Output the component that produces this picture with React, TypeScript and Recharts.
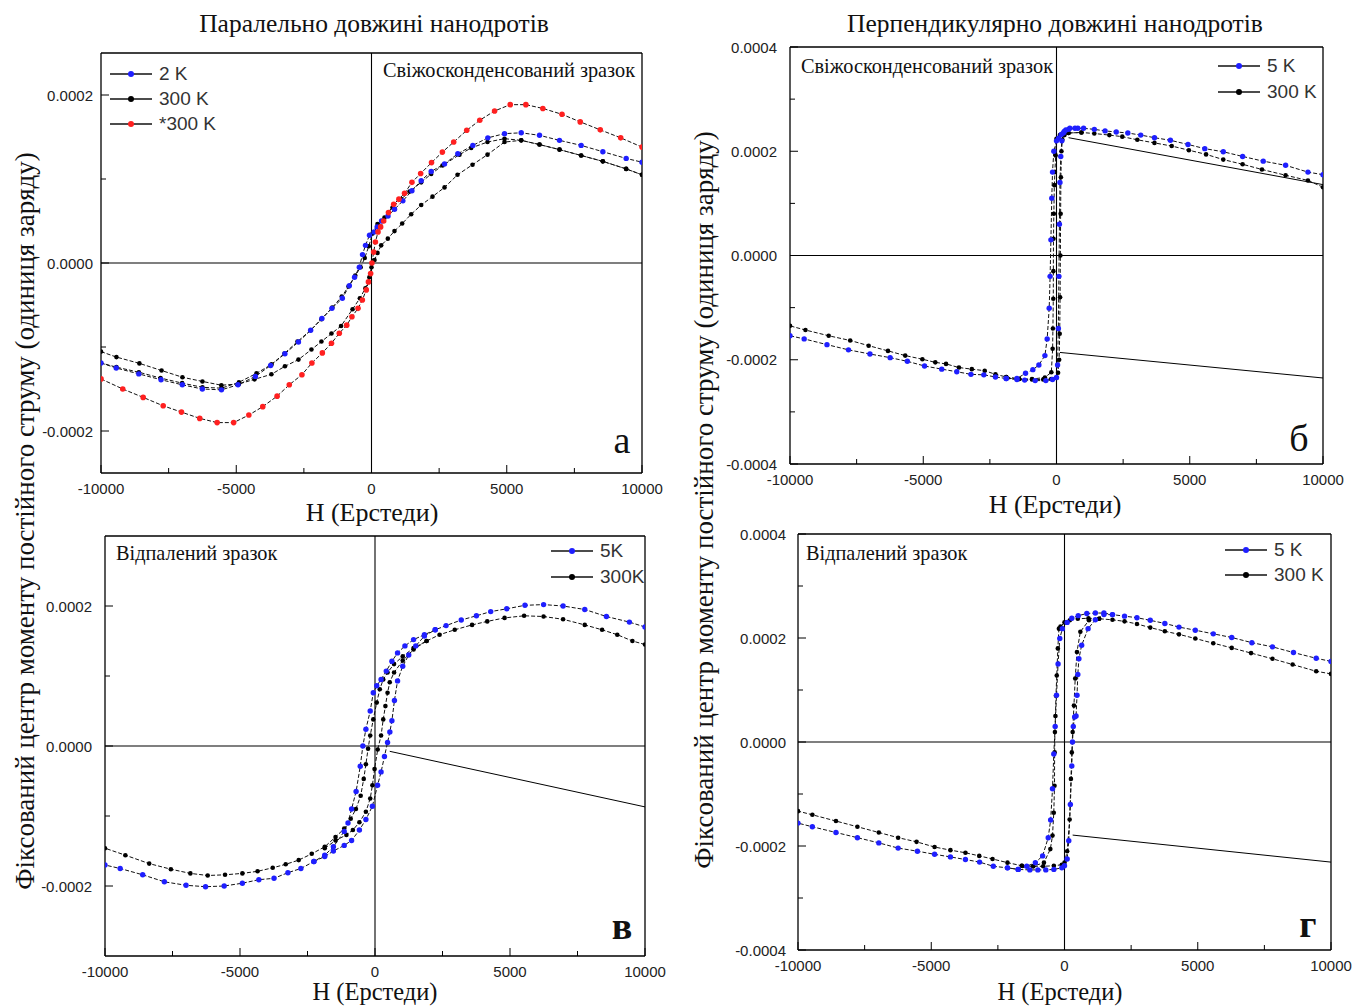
import React from "react";
import { LineChart, Line, XAxis, YAxis, ReferenceLine } from "recharts";

// ---------- data (H in Oe, M in units of 1e-4) ----------
const xTicks = [-10000, -7500, -5000, -2500, 0, 2500, 5000, 7500, 10000];
const yTicksA = [-2e-4, -1e-4, 0, 1e-4, 2e-4];
const yTicksB = [-4e-4, -3e-4, -2e-4, -1e-4, 0, 1e-4, 2e-4, 3e-4, 4e-4];
const yTicksC = [-2e-4, -1e-4, 0, 1e-4, 2e-4];

// Panel а (parallel, fresh)
const a2K = [[-10000,-1.19],[-9437,-1.25],[-8602,-1.32],[-7781,-1.39],[-6994,-1.45],[-6254,-1.5],[-5547,-1.51],[-4936,-1.45],[-4293,-1.35],[-3730,-1.22],[-3200,-1.08],[-2700,-0.94],[-2250,-0.8],[-1833,-0.66],[-1463,-0.54],[-1077,-0.42],[-820,-0.27],[-627,-0.17],[-450,-0.05],[-333,0.1],[-222,0.21],[-74,0.33],[96,0.37],[209,0.43],[370,0.5],[611,0.56],[852,0.64],[1160,0.74],[1495,0.86],[1837,0.98],[2206,1.09],[2699,1.18],[3191,1.3],[3746,1.4],[4300,1.49],[4917,1.54],[5535,1.55],[6211,1.52],[6950,1.46],[7751,1.4],[8552,1.325],[9415,1.245],[10000,1.2]];
const a300up = [[-10000,-1.055],[-9430,-1.12],[-8580,-1.195],[-7760,-1.28],[-6990,-1.36],[-6250,-1.41],[-5550,-1.455],[-4900,-1.44],[-4325,-1.385],[-3700,-1.325],[-3200,-1.23],[-2700,-1.15],[-2220,-1.03],[-1850,-0.935],[-1480,-0.84],[-1125,-0.75],[-700,-0.55],[-430,-0.42],[-225,-0.3],[-80,-0.17],[0,-0.05],[111,0.035],[222,0.12],[358,0.21],[603,0.29],[850,0.38],[1135,0.47],[1467,0.58],[1837,0.69],[2255,0.79],[2700,0.9],[3180,1.05],[3734,1.17],[4288,1.29],[4917,1.44],[5535,1.46],[6211,1.41],[6950,1.35],[7751,1.28],[8552,1.21],[9415,1.12],[10000,1.05]];
const a300down = [[10000,1.05],[9415,1.12],[8552,1.21],[7751,1.28],[6950,1.35],[6211,1.41],[5535,1.46],[4917,1.48],[4288,1.44],[3686,1.37],[3253,1.29],[2625,1.16],[2206,1.06],[1837,0.96],[1405,0.85],[1098,0.76],[776,0.66],[480,0.54],[222,0.465],[37,0.35],[-100,0.2],[-250,0.06],[-400,-0.05],[-600,-0.15],[-850,-0.28],[-1100,-0.4],[-1450,-0.53],[-1850,-0.67],[-2250,-0.8],[-2736,-0.935],[-3216,-1.077],[-3697,-1.207],[-4251,-1.314],[-4900,-1.42],[-5545,-1.49],[-6250,-1.48],[-7000,-1.43],[-7800,-1.37],[-8600,-1.3],[-9430,-1.24],[-10000,-1.19]];
const a300star = [[-10000,-1.38],[-9196,-1.5],[-8441,-1.6],[-7701,-1.7],[-7026,-1.775],[-6350,-1.85],[-5707,-1.9],[-5096,-1.9],[-4534,-1.81],[-4020,-1.71],[-3489,-1.585],[-3039,-1.45],[-2572,-1.33],[-2203,-1.19],[-1817,-1.07],[-1479,-0.955],[-1190,-0.836],[-916,-0.74],[-723,-0.64],[-498,-0.54],[-338,-0.44],[-193,-0.32],[-113,-0.225],[-32,-0.126],[16,0],[80,0.13],[145,0.25],[241,0.37],[338,0.43],[450,0.5],[627,0.6],[820,0.7],[1013,0.76],[1222,0.83],[1495,0.96],[1817,1.065],[2219,1.195],[2621,1.32],[3039,1.44],[3521,1.58],[4003,1.7],[4550,1.81],[5129,1.885],[5707,1.885],[6334,1.84],[7042,1.77],[7717,1.68],[8457,1.585],[9212,1.49],[10000,1.38]];

// Panel б (perpendicular, fresh)
const b5Kdown = [[10000,1.55],[9435,1.6],[8597,1.73],[7758,1.81],[6984,1.9],[6258,1.99],[5565,2.05],[4935,2.13],[4274,2.21],[3677,2.26],[3161,2.31],[2677,2.35],[2242,2.37],[1823,2.39],[1419,2.42],[1016,2.44],[694,2.44],[452,2.42],[290,2.38],[177,2.32],[81,2.25],[0,2.2],[-100,2.0],[-150,1.6],[-177,1.1],[-210,0.3],[-240,-0.4],[-274,-1.01],[-350,-1.6],[-435,-1.92],[-661,-2.1],[-887,-2.19],[-1161,-2.26],[-1484,-2.36],[-1887,-2.36],[-2290,-2.33],[-2726,-2.29],[-3210,-2.28],[-3742,-2.23],[-4306,-2.18],[-4952,-2.12],[-5597,-2.03],[-6242,-1.96],[-7000,-1.89],[-7806,-1.81],[-8613,-1.71],[-9468,-1.6],[-10000,-1.54]];
const b5Kup = [[-1887,-2.36],[-1484,-2.38],[-1194,-2.39],[-800,-2.4],[-400,-2.4],[-150,-2.38],[0,-2.34],[40,-2.1],[70,-1.4],[90,-0.4],[110,0.6],[130,1.4],[160,1.9],[200,2.2],[260,2.35],[350,2.41],[500,2.44],[800,2.44]];
const b300down = [[10000,1.31],[9435,1.44],[8597,1.54],[7710,1.65],[6984,1.75],[6258,1.84],[5613,1.94],[4968,2.02],[4323,2.1],[3677,2.16],[3032,2.22],[2468,2.28],[1984,2.31],[1419,2.34],[935,2.36],[452,2.35],[129,2.31],[0,2.24],[-32,1.92],[-60,1.6],[-81,1.35],[-100,0.8],[-113,0.32],[-118,-0.3],[-120,-0.83],[-135,-1.4],[-145,-1.79],[-194,-2.24],[-435,-2.34],[-919,-2.37],[-1403,-2.37],[-1887,-2.33],[-2290,-2.28],[-2694,-2.21],[-3177,-2.18],[-3661,-2.15],[-4145,-2.08],[-4548,-2.05],[-5032,-1.99],[-5677,-1.92],[-6323,-1.83],[-7048,-1.73],[-7742,-1.63],[-8548,-1.54],[-9419,-1.43],[-10000,-1.35]];
const b300up = [[-1887,-2.33],[-1403,-2.37],[-919,-2.38],[-500,-2.38],[-200,-2.37],[0,-2.35],[60,-2.25],[100,-2.0],[120,-1.5],[135,-0.8],[145,0],[155,0.8],[165,1.5],[185,2.0],[220,2.22],[300,2.31],[452,2.35],[935,2.36]];
const bLineLow = [[129,-1.86],[10000,-2.35]];
const bLineHigh = [[452,2.26],[10000,1.36]];

// Panel в (parallel, annealed)
const c5Kdown = [[10000,1.7],[9422,1.77],[8571,1.85],[7769,1.95],[6966,2.0],[6244,2.02],[5554,2.01],[4880,1.96],[4286,1.92],[3756,1.86],[3194,1.8],[2632,1.72],[2231,1.66],[1830,1.59],[1429,1.52],[1108,1.43],[835,1.33],[626,1.21],[417,1.07],[225,0.95],[64,0.86],[-64,0.76],[-177,0.5],[-337,0.24],[-450,0.0],[-546,-0.29],[-700,-0.65],[-867,-0.9],[-1000,-1.1],[-1140,-1.22],[-1541,-1.44],[-1862,-1.56],[-2263,-1.65],[-2745,-1.75],[-3226,-1.81],[-3740,-1.89],[-4302,-1.91],[-4912,-1.96],[-5586,-2.0],[-6276,-2.01],[-6998,-1.99],[-7801,-1.94],[-8604,-1.84],[-9438,-1.75],[-10000,-1.7]];
const c5Kup = [[-2263,-1.65],[-1862,-1.58],[-1541,-1.5],[-1140,-1.42],[-867,-1.35],[-578,-1.2],[-337,-1.05],[-96,-0.86],[96,-0.56],[225,-0.37],[350,-0.15],[465,0.05],[550,0.2],[626,0.36],[720,0.65],[835,0.93],[1027,1.14],[1250,1.3],[1509,1.43],[1830,1.57],[2231,1.66]];
const c300down = [[10000,1.45],[9534,1.5],[8973,1.59],[8411,1.66],[7769,1.73],[6966,1.81],[6244,1.85],[5522,1.86],[4799,1.83],[4157,1.78],[3595,1.73],[2953,1.66],[2392,1.59],[1910,1.5],[1429,1.4],[1027,1.28],[706,1.17],[465,1.05],[305,0.95],[177,0.81],[64,0.62],[-64,0.38],[-177,0.15],[-257,-0.04],[-337,-0.26],[-417,-0.47],[-530,-0.71],[-706,-0.9],[-899,-1.04],[-1140,-1.18],[-1461,-1.3],[-1862,-1.44],[-2343,-1.54],[-2825,-1.63],[-3307,-1.69],[-3788,-1.74],[-4350,-1.79],[-4912,-1.82],[-5554,-1.84],[-6196,-1.85],[-6838,-1.82],[-7560,-1.76],[-8363,-1.68],[-9246,-1.56],[-10000,-1.46]];
const c300up = [[-1862,-1.46],[-1461,-1.35],[-1059,-1.27],[-819,-1.2],[-578,-1.09],[-337,-0.94],[-177,-0.75],[-96,-0.56],[-16,-0.33],[100,-0.05],[225,0.15],[305,0.38],[385,0.57],[465,0.76],[546,0.91],[706,1.05],[1027,1.22],[1429,1.38],[1910,1.5]];
const cLine = [[546,-0.076],[10000,-0.87]];

// Panel г (perpendicular, annealed)
const d5Kdown = [[10000,1.55],[9445,1.61],[8592,1.72],[7804,1.83],[7031,1.91],[6275,2.01],[5583,2.08],[4908,2.15],[4296,2.21],[3765,2.28],[3218,2.34],[2719,2.39],[2253,2.42],[1800,2.45],[1480,2.48],[1158,2.48],[837,2.47],[515,2.43],[274,2.38],[100,2.3],[-80,2.18],[-177,1.99],[-241,1.5],[-300,0.9],[-350,0.3],[-402,-0.23],[-450,-0.9],[-520,-1.5],[-611,-1.84],[-821,-2.19],[-1094,-2.32],[-1416,-2.39],[-1738,-2.45],[-2140,-2.42],[-2671,-2.39],[-3186,-2.31],[-3717,-2.26],[-4280,-2.21],[-4875,-2.16],[-5519,-2.1],[-6243,-2.04],[-6967,-1.94],[-7771,-1.84],[-8576,-1.74],[-9461,-1.63],[-10000,-1.56]];
const d5Kup = [[-2140,-2.42],[-1738,-2.45],[-1300,-2.46],[-1000,-2.46],[-700,-2.46],[-400,-2.45],[-100,-2.42],[0,-2.38],[100,-2.25],[160,-1.9],[220,-1.2],[274,-0.46],[300,0.0],[330,0.3],[380,0.48],[434,0.5],[470,0.9],[500,1.3],[540,1.6],[644,1.86],[885,2.18],[1158,2.35],[1480,2.45],[1800,2.45]];
const d300down = [[10000,1.31],[9445,1.36],[8560,1.49],[7804,1.6],[6999,1.71],[6275,1.81],[5583,1.9],[4908,1.99],[4296,2.07],[3765,2.13],[3218,2.2],[2719,2.27],[2253,2.32],[1800,2.35],[1300,2.37],[900,2.38],[500,2.37],[200,2.34],[0,2.3],[-150,2.22],[-209,2.18],[-250,1.8],[-290,1.28],[-320,0.89],[-340,0.5],[-360,0.19],[-370,-0.2],[-375,-0.84],[-402,-1.36],[-450,-1.8],[-531,-2.06],[-772,-2.32],[-1175,-2.39],[-1600,-2.38],[-2140,-2.32],[-2700,-2.25],[-3200,-2.19],[-3717,-2.13],[-4280,-2.08],[-4875,-2.02],[-5551,-1.92],[-6243,-1.84],[-6967,-1.74],[-7771,-1.63],[-8576,-1.52],[-9461,-1.4],[-10000,-1.33]];
const d300up = [[-1600,-2.38],[-1175,-2.39],[-800,-2.39],[-400,-2.38],[-100,-2.36],[0,-2.32],[100,-2.1],[193,-1.49],[241,-0.71],[274,-0.2],[306,0.19],[354,0.7],[402,1.22],[467,1.73],[595,2.12],[917,2.34],[1300,2.37]];
const dLine = [[306,-1.79],[10000,-2.31]];

// ---------- styles ----------
const SERIF = "'Liberation Serif', 'Times New Roman', serif";
const SANS = "'Liberation Sans', Arial, sans-serif";
const BLUE = "#1f1fff";
const RED = "#ff2020";
const BLACK = "#000000";

const toData = (pts: number[][]) => pts.map(([h, m]) => ({ h, m: m * 1e-4 }));

type Series = { pts: number[][]; color?: string; plain?: boolean; r?: number };

const XTick = (props: any) => {
  const { x, y, payload } = props;
  const v = payload.value;
  const major = v % 5000 === 0;
  return (
    <g>
      <line x1={x} x2={x} y1={y} y2={y - (major ? 8 : 5)} stroke="#000" strokeWidth={1} />
      {major && (
        <text x={x} y={y + 15} textAnchor="middle" dominantBaseline="central" fontFamily={SANS} fontSize={15} fill="#222">
          {v}
        </text>
      )}
    </g>
  );
};

const YTick = (props: any) => {
  const { x, y, payload, gap } = props;
  const v = payload.value;
  const q = v / 2e-4;
  const major = Math.abs(q - Math.round(q)) < 1e-6;
  return (
    <g>
      <line x1={x} x2={x + (major ? 8 : 5)} y1={y} y2={y} stroke="#000" strokeWidth={1} />
      {major && (
        <text x={x - gap} y={y} textAnchor="end" dominantBaseline="central" fontFamily={SANS} fontSize={15} fill="#222">
          {Math.abs(v) < 1e-12 ? "0.0000" : v.toFixed(4)}
        </text>
      )}
    </g>
  );
};

type PanelProps = {
  left: number; top: number; w: number; h: number; d: number; yTicks: number[];
  series: Series[]; gap: number;
};

const Panel = ({ left, top, w, h, d, yTicks, series, gap }: PanelProps) => {
  const ML = 70, MT = 10, MR = 30, MB = 40;
  return (
    <div style={{ position: "absolute", left: left - ML, top: top - MT }}>
      <LineChart width={w + ML + MR} height={h + MT + MB} margin={{ top: MT, right: MR, left: 0, bottom: 0 }}>
        <XAxis
          dataKey="h" type="number" domain={[-10000, 10000]} ticks={xTicks} interval={0}
          allowDataOverflow height={MB} tickSize={0} tickMargin={0}
          axisLine={{ stroke: "#000", strokeWidth: 1.3 }} tickLine={false} tick={<XTick />}
        />
        <YAxis
          type="number" domain={[-d, d]} ticks={yTicks} interval={0} allowDataOverflow width={ML}
          tickSize={0} tickMargin={0} axisLine={{ stroke: "#000", strokeWidth: 1.3 }} tickLine={false}
          tick={<YTick gap={gap} />}
        />
        <ReferenceLine x={10000} stroke="#000" strokeWidth={1.3} />
        <ReferenceLine y={d} stroke="#000" strokeWidth={1.3} />
        <ReferenceLine x={0} stroke="#000" strokeWidth={1.1} />
        <ReferenceLine y={0} stroke="#000" strokeWidth={1.1} />
        {series.map((s, i) =>
          s.plain ? (
            <Line key={i} name={"s" + i} data={toData(s.pts)} dataKey="m" type="linear" stroke="#000"
              strokeWidth={1} dot={false} activeDot={false} isAnimationActive={false} />
          ) : (
            <Line key={i} name={"s" + i} data={toData(s.pts)} dataKey="m" type="linear" stroke="#111"
              strokeWidth={1} strokeDasharray="4 2"
              dot={{ r: s.r ?? 2.6, fill: s.color, stroke: s.color, strokeWidth: 0 }}
              activeDot={false} isAnimationActive={false} />
          )
        )}
      </LineChart>
    </div>
  );
};

const LegendBox = ({ left, top, items, gap }: { left: number; top: number; items: { label: string; color: string }[]; gap: number }) => (
  <div style={{ position: "absolute", left, top }}>
    {items.map((it, i) => (
      <div key={i} style={{ position: "absolute", left: 0, top: i * gap, display: "flex", alignItems: "center", height: 24, whiteSpace: "nowrap" }}>
        <svg width={46} height={24} style={{ display: "block" }}>
          <line x1={0} x2={42} y1={12} y2={12} stroke="#111" strokeWidth={1.3} />
          <circle cx={21} cy={12} r={3} fill={it.color} />
        </svg>
        <span style={{ fontFamily: SANS, fontSize: 19, color: "#333", marginLeft: 3 }}>{it.label}</span>
      </div>
    ))}
  </div>
);

const T = ({ x, y, children, size = 22, weight = 400, anchor = "center", rotate = false }: any) => (
  <div
    style={{
      position: "absolute", left: x, top: y, whiteSpace: "nowrap", fontFamily: SERIF, fontSize: size,
      fontWeight: weight, color: "#111", lineHeight: 1,
      transform: rotate
        ? "translate(-50%, -50%) rotate(-90deg)"
        : anchor === "center" ? "translate(-50%, -50%)" : anchor === "left" ? "translate(0, -50%)" : "translate(-100%, -50%)",
    }}
  >
    {children}
  </div>
);

export default function App() {
  const yLabel = "Фіксований центр моменту постійного струму (одиниця заряду)";
  return (
    <div style={{ position: "absolute", left: 0, top: 0, width: 1354, height: 1007, background: "#fff", overflow: "hidden" }}>
      <T x={374} y={24} size={25.5}>Паралельно довжині нанодротів</T>
      <T x={1055} y={24} size={25.5}>Перпендикулярно довжині нанодротів</T>

      <T x={25} y={521} size={27} rotate>{yLabel}</T>
      <T x={704} y={500} size={27} rotate>{yLabel}</T>

      {/* Panel а */}
      <Panel left={101} top={53} w={541} h={420} d={2.5e-4} yTicks={yTicksA} gap={8}
        series={[
          { pts: a300up, color: BLACK, r: 2.3 },
          { pts: a300down, color: BLACK, r: 2.3 },
          { pts: a2K, color: BLUE, r: 2.7 },
          { pts: a300star, color: RED, r: 2.8 },
        ]} />
      <T x={383} y={70} size={20.3} anchor="left">Свіжосконденсований зразок</T>
      <LegendBox left={110} top={62} gap={25} items={[{ label: "2 K", color: BLUE }, { label: "300 K", color: BLACK }, { label: "*300 K", color: RED }]} />
      <T x={622} y={440} size={38}>а</T>
      <T x={372} y={513} size={26}>H (Ерстеди)</T>

      {/* Panel б */}
      <Panel left={790} top={47} w={533} h={417} d={4e-4} yTicks={yTicksB} gap={13}
        series={[
          { pts: bLineLow, plain: true },
          { pts: bLineHigh, plain: true },
          { pts: b300down, color: BLACK, r: 2.3 },
          { pts: b300up, color: BLACK, r: 2.3 },
          { pts: b5Kdown, color: BLUE, r: 2.7 },
          { pts: b5Kup, color: BLUE, r: 2.7 },
        ]} />
      <T x={801} y={66} size={20.3} anchor="left">Свіжосконденсований зразок</T>
      <LegendBox left={1218} top={54} gap={26} items={[{ label: "5 K", color: BLUE }, { label: "300 K", color: BLACK }]} />
      <T x={1299} y={438} size={38}>б</T>
      <T x={1055} y={505} size={26}>H (Ерстеди)</T>

      {/* Panel в */}
      <Panel left={105} top={536} w={540} h={420} d={3e-4} yTicks={yTicksC} gap={13}
        series={[
          { pts: cLine, plain: true },
          { pts: c300down, color: BLACK, r: 2.3 },
          { pts: c300up, color: BLACK, r: 2.3 },
          { pts: c5Kdown, color: BLUE, r: 2.7 },
          { pts: c5Kup, color: BLUE, r: 2.7 },
        ]} />
      <T x={116} y={553} size={20.3} anchor="left">Відпалений зразок</T>
      <LegendBox left={551} top={539} gap={26} items={[{ label: "5K", color: BLUE }, { label: "300K", color: BLACK }]} />
      <T x={622} y={926} size={38} weight={700}>в</T>
      <T x={375} y={992} size={24.5}>H (Ерстеди)</T>

      {/* Panel г */}
      <Panel left={798} top={534} w={533} h={416} d={4e-4} yTicks={yTicksB} gap={12}
        series={[
          { pts: dLine, plain: true },
          { pts: d300down, color: BLACK, r: 2.3 },
          { pts: d300up, color: BLACK, r: 2.3 },
          { pts: d5Kdown, color: BLUE, r: 2.7 },
          { pts: d5Kup, color: BLUE, r: 2.7 },
        ]} />
      <T x={806} y={553} size={20.3} anchor="left">Відпалений зразок</T>
      <LegendBox left={1225} top={538} gap={25} items={[{ label: "5 K", color: BLUE }, { label: "300 K", color: BLACK }]} />
      <T x={1308} y={924} size={38} weight={700}>г</T>
      <T x={1060} y={992} size={24.5}>H (Ерстеди)</T>
    </div>
  );
}
